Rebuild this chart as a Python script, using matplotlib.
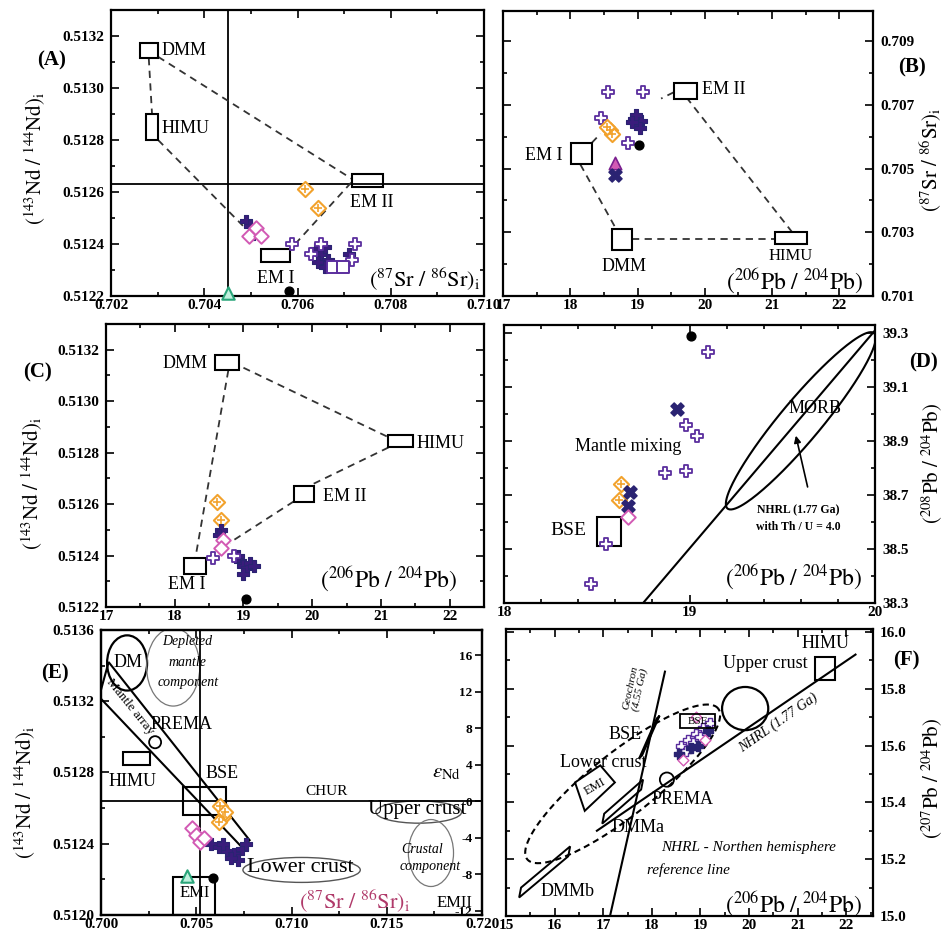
import numpy as np
import matplotlib
matplotlib.use('Agg')
from matplotlib import pyplot as plt
from matplotlib.patches import Rectangle, Ellipse, Polygon
from matplotlib.ticker import MultipleLocator, FixedLocator, FormatStrFormatter

plt.rcParams['font.family'] = ['Liberation Serif', 'DejaVu Serif']
plt.rcParams['mathtext.fontset'] = 'stix'

PURPLE = '#5b2e9e'
DARK = '#3a1c7c'
ORANGE = '#f2a22c'
PINK = '#d25ab4'
NAVY = '#2a2372'
GREEN = '#2aa57a'

# ---------------- data ----------------
# (A) Sr vs Nd
A_open_sr = [0.70588, 0.70724, 0.70716, 0.70650, 0.70628]
A_open_nd = [0.51240, 0.51240, 0.51234, 0.51240, 0.51236]
A_dark_sr = [0.70490, 0.70498, 0.70505, 0.70640, 0.70650, 0.70658, 0.70666, 0.70645, 0.70660, 0.70710]
A_dark_nd = [0.51249, 0.51247, 0.51244, 0.51238, 0.51236, 0.51239, 0.51234, 0.51233, 0.51231, 0.51236]
A_pink_sr = [0.70495, 0.70510, 0.70522]
A_pink_nd = [0.51243, 0.51246, 0.51243]
A_sq_sr = [0.70676, 0.70698]
A_sq_nd = [0.51231, 0.51231]
A_or_sr = [0.70616, 0.70644]
A_or_nd = [0.51261, 0.51254]
A_blk = (0.70582, 0.51222)
A_grn = (0.70451, 0.51221)
A_em = {'DMM': (0.70262, 0.70301, 0.513115, 0.513173),
        'HIMU': (0.70275, 0.70301, 0.51280, 0.51290),
        'EM II': (0.70717, 0.70784, 0.51262, 0.51267),
        'EM I': (0.70522, 0.70584, 0.51233, 0.51238)}
A_mix = [((0.70281, 0.513115), (0.70288, 0.51290)),
         ((0.70301, 0.51312), (0.70717, 0.51265)),
         ((0.70301, 0.51280), (0.70483, 0.51247)),
         ((0.70595, 0.51240), (0.70717, 0.51264))]

# (B) Pb vs Sr
B_yticks = [0.701, 0.703, 0.705, 0.707, 0.709]
B_open_pb = [18.56, 19.08, 18.46, 18.86]
B_open_sr = [0.70742, 0.70742, 0.70659, 0.70581]
B_dark_pb = [18.95, 19.00, 19.05, 18.98, 19.03, 18.92]
B_dark_sr = [0.70655, 0.70640, 0.70650, 0.70668, 0.70628, 0.70645]
B_or_pb = [18.59, 18.62, 18.55]
B_or_sr = [0.70622, 0.70610, 0.70632]
B_blk = (19.02, 0.70575)
B_tri = (18.66, 0.70519)
B_x = (18.66, 0.70481)
B_em = {'EM II': (19.54, 19.88, 0.70720, 0.70768),
        'EM I': (18.01, 18.32, 0.70513, 0.70581),
        'DMM': (18.62, 18.92, 0.70245, 0.70311),
        'HIMU': (21.04, 21.52, 0.70262, 0.70300)}
B_mix = [((18.15, 0.70513), (18.68, 0.70311)),
         ((18.92, 0.70280), (21.04, 0.70280)),
         ((21.30, 0.70300), (19.74, 0.70720)),
         ((19.54, 0.70740), (19.35, 0.70720)),
         ((18.32, 0.70581), (18.45, 0.70610))]

# (C) Pb vs Nd
C_open_pb = [18.56, 18.86]
C_open_nd = [0.51239, 0.51240]
C_dark_pb = [18.67, 18.65, 18.95, 19.00, 19.05, 19.10, 19.15, 19.00, 18.92]
C_dark_nd = [0.51250, 0.51248, 0.51238, 0.51236, 0.51235, 0.51237, 0.51236, 0.51233, 0.51240]
C_pink_pb = [18.70, 18.68]
C_pink_nd = [0.51246, 0.51243]
C_or_pb = [18.62, 18.67]
C_or_nd = [0.51261, 0.51254]
C_blk = (19.03, 0.51223)
C_em = {'DMM': (18.59, 18.94, 0.51312, 0.51318),
        'HIMU': (21.11, 21.47, 0.51282, 0.51287),
        'EM II': (19.73, 20.03, 0.51261, 0.51267),
        'EM I': (18.13, 18.45, 0.51233, 0.51239)}
C_mix = [((18.78, 0.51312), (18.30, 0.51239)),
         ((19.00, 0.51313), (21.11, 0.51286)),
         ((21.11, 0.51282), (19.95, 0.51267)),
         ((19.73, 0.51261), (18.80, 0.51245))]

# (D) 206Pb vs 208Pb
D_yticks = [38.3, 38.5, 38.7, 38.9, 39.1, 39.3]
D_open_pb6 = [19.10, 18.98, 19.04, 18.87, 18.98, 18.55, 18.47]
D_open_pb8 = [39.23, 38.96, 38.92, 38.78, 38.79, 38.52, 38.37]
D_x_pb6 = [18.93, 18.68, 18.67]
D_x_pb8 = [39.02, 38.71, 38.66]
D_or_pb6 = [18.63, 18.62]
D_or_pb8 = [38.74, 38.68]
D_pink = (18.67, 38.62)
D_blk = (19.01, 39.29)
D_bse = (18.50, 18.63, 38.51, 38.62)
D_nhrl_pb6 = [18.75, 20.0]
D_nhrl_pb8 = [38.30, 39.31]
D_morb_c = (19.60, 38.975)
D_morb_a = (0.395, 0.325)
D_morb_b = (-0.085, 0.048)

# (E) Sr vs Nd (reference reservoirs)
E_or_sr = [0.70626, 0.70640, 0.70620, 0.70650]
E_or_nd = [0.51261, 0.51255, 0.51252, 0.51258]
E_pink_sr = [0.70480, 0.70500, 0.70520, 0.70540]
E_pink_nd = [0.51249, 0.51245, 0.51241, 0.51243]
E_dark_sr = [0.70580, 0.70620, 0.70660, 0.70700, 0.70740, 0.70720, 0.70680, 0.70760, 0.70640]
E_dark_nd = [0.51240, 0.51238, 0.51236, 0.51234, 0.51237, 0.51231, 0.51232, 0.51240, 0.51240]
E_grn = (0.70453, 0.51222)
E_blk = (0.70589, 0.51221)
E_chur = 0.512638
E_bulk_sr = 0.7052
E_boxes = {'HIMU': (0.70116, 0.70258, 0.512842, 0.512915),
           'BSE': (0.70432, 0.70658, 0.512561, 0.512719),
           'EMI': (0.70379, 0.70600, 0.51200, 0.512213)}
E_array_sr = [0.70040, 0.70780, 0.70740, 0.69990]
E_array_nd = [0.513420, 0.512420, 0.512380, 0.513225]

# (F) 206Pb vs 207Pb
F_pts_pb6 = [18.60, 18.75, 18.90, 19.05, 19.20, 18.70, 18.85, 19.00, 19.15, 18.55, 18.80, 18.95, 19.10, 18.65, 18.90]
F_pts_pb7 = [15.60, 15.62, 15.64, 15.66, 15.68, 15.58, 15.61, 15.63, 15.65, 15.57, 15.59, 15.60, 15.62, 15.55, 15.70]
F_geo_pb6 = [17.14, 18.27]
F_geo_pb7 = [15.00, 15.86]
F_nhrl_pb6 = [16.87, 22.19]
F_nhrl_pb7 = [15.30, 15.92]
F_emi_pb6 = [16.42, 16.94, 17.24, 16.62]
F_emi_pb7 = [15.47, 15.53, 15.47, 15.37]
F_dmma_pb6 = [16.98, 17.02, 17.82, 17.78]
F_dmma_pb7 = [15.325, 15.360, 15.480, 15.445]
F_dmmb_pb6 = [15.27, 15.31, 16.32, 16.28]
F_dmmb_pb7 = [15.065, 15.100, 15.245, 15.210]
F_bse_pb6 = [17.74, 17.80, 18.16, 18.10]
F_bse_pb7 = [15.555, 15.565, 15.705, 15.695]
F_himu = (21.36, 21.77, 15.83, 15.91)
F_uc = (19.92, 15.73)
F_prema = (18.31, 15.48)
F_mix_c = (17.40, 15.465)
F_mix_a = (1.965, 0.265)
F_mix_b = (-0.40, 0.088)

# ---------------- layout ----------------
W, H = 947, 941
fig = plt.figure(figsize=(W / 100, H / 100), dpi=100)


def panel(x0, y0, x1, y1):
    return fig.add_axes([x0 / W, 1 - y1 / H, (x1 - x0) / W, (y1 - y0) / H])


def style(ax, xmaj, xmin, ymaj, ymin, xfmt, yfmt, right=False):
    ax.xaxis.set_major_locator(MultipleLocator(xmaj))
    ax.xaxis.set_minor_locator(MultipleLocator(xmin))
    if isinstance(ymaj, list):
        ax.yaxis.set_major_locator(FixedLocator(ymaj))
    else:
        ax.yaxis.set_major_locator(MultipleLocator(ymaj))
    ax.yaxis.set_minor_locator(MultipleLocator(ymin))
    ax.xaxis.set_major_formatter(FormatStrFormatter(xfmt))
    ax.yaxis.set_major_formatter(FormatStrFormatter(yfmt))
    ax.tick_params(which='both', direction='in', top=True, right=True, width=1.2)
    ax.tick_params(which='major', length=6, labelsize=11)
    ax.tick_params(which='minor', length=3)
    ax.tick_params(axis='x', pad=2)
    ax.tick_params(axis='y', pad=5)
    if right:
        ax.tick_params(labelleft=False, labelright=True)
    for s in ax.spines.values():
        s.set_linewidth(1.6)
    for t in ax.get_xticklabels() + ax.get_yticklabels():
        t.set_fontweight('bold')


def pts(ax, xs, ys, kind):
    if kind == 'open':
        ax.scatter(xs, ys, marker='P', s=85, facecolors='white', edgecolors=PURPLE, linewidths=1.3, zorder=5)
    elif kind == 'dark':
        ax.scatter(xs, ys, marker='P', s=85, color=DARK, edgecolors=NAVY, linewidths=0.8, zorder=5)
    elif kind == 'orange':
        ax.scatter(xs, ys, marker='D', s=60, facecolors='white', edgecolors=ORANGE, linewidths=1.5, zorder=5)
        ax.scatter(xs, ys, marker='+', s=40, color=ORANGE, linewidths=1.2, zorder=6)
    elif kind == 'pink':
        ax.scatter(xs, ys, marker='D', s=55, facecolors='white', edgecolors=PINK, linewidths=1.4, zorder=5)
    elif kind == 'square':
        ax.scatter(xs, ys, marker='s', s=70, facecolors='white', edgecolors=PURPLE, linewidths=1.4, zorder=5)
    elif kind == 'cross':
        ax.scatter(xs, ys, marker='X', s=90, color=NAVY, zorder=5)
    elif kind == 'tri':
        ax.scatter(xs, ys, marker='^', s=80, facecolors=PINK, edgecolors='#7a1f8f', linewidths=1.2, zorder=5)
    elif kind == 'black':
        ax.scatter(xs, ys, marker='o', s=40, color='black', zorder=6)
    elif kind == 'green':
        ax.scatter(xs, ys, marker='^', s=80, facecolors='#bff0dd', edgecolors=GREEN, linewidths=1.5, zorder=6, clip_on=False)


def boxes(ax, em):
    for name, (x0, x1, y0, y1) in em.items():
        ax.add_patch(Rectangle((x0, y0), x1 - x0, y1 - y0, fill=False, lw=1.5, ec='black', zorder=4))


def mixlines(ax, segs):
    for (p, q) in segs:
        ax.plot([p[0], q[0]], [p[1], q[1]], ls=(0, (4, 3)), lw=1.3, color='#333333', zorder=3)


def ell(ax, c, a, b, **kw):
    t = np.linspace(0, 2 * np.pi, 200)
    ax.plot(c[0] + a[0] * np.cos(t) + b[0] * np.sin(t),
            c[1] + a[1] * np.cos(t) + b[1] * np.sin(t), **kw)


lab_nd = r'$(^{143}\mathrm{Nd}\ /\ ^{144}\mathrm{Nd})_\mathrm{i}$'
lab_sr = r'$(^{87}\mathrm{Sr}\ /\ ^{86}\mathrm{Sr})_\mathrm{i}$'
lab_pb6 = r'$(^{206}\mathrm{Pb}\ /\ ^{204}\mathrm{Pb})$'
lab_pb8 = r'$(^{208}\mathrm{Pb}\ /\ ^{204}\mathrm{Pb})$'
lab_pb7 = r'$(^{207}\mathrm{Pb}\ /\ ^{204}\mathrm{Pb})$'
FS = 13


def ftext(x, y, s, size=15, rot=0, **kw):
    fig.text(x / W, 1 - y / H, s, fontsize=size, rotation=rot, ha='center', va='center', **kw)


# ---------------- (A) ----------------
ax = panel(111, 10, 484, 296)
ax.set_xlim(0.702, 0.710)
ax.set_ylim(0.5122, 0.5133)
style(ax, 0.002, 0.001, 0.0002, 0.0001, '%.3f', '%.4f')
ax.axvline(A_grn[0], color='black', lw=1.3)
ax.axhline(0.51263, color='black', lw=1.3)
boxes(ax, A_em)
mixlines(ax, A_mix)
pts(ax, A_dark_sr, A_dark_nd, 'dark')
pts(ax, A_open_sr, A_open_nd, 'open')
pts(ax, A_pink_sr, A_pink_nd, 'pink')
pts(ax, A_sq_sr, A_sq_nd, 'square')
pts(ax, A_or_sr, A_or_nd, 'orange')
pts(ax, *A_blk, 'black')
pts(ax, *A_grn, 'green')
ax.text(0.70309, 0.513146, 'DMM', fontsize=FS, va='center')
ax.text(0.70309, 0.512846, 'HIMU', fontsize=FS, va='center')
ax.text(0.70713, 0.512558, 'EM II', fontsize=FS, va='center')
ax.text(0.70554, 0.512269, 'EM I', fontsize=FS, va='center', ha='center')
ax.text(0.99, 0.06, lab_sr, transform=ax.transAxes, fontsize=16, ha='right', va='center')

# ---------------- (B) ----------------
ax = panel(503, 11, 873, 296)
ax.set_xlim(17, 22.5)
ax.set_ylim(0.701, 0.70995)
style(ax, 1, 0.5, B_yticks, 0.001, '%d', '%.3f', right=True)
boxes(ax, B_em)
mixlines(ax, B_mix)
pts(ax, B_open_pb, B_open_sr, 'open')
pts(ax, B_dark_pb, B_dark_sr, 'dark')
pts(ax, B_or_pb, B_or_sr, 'orange')
pts(ax, *B_blk, 'black')
pts(ax, *B_tri, 'tri')
pts(ax, *B_x, 'cross')
ax.text(19.96, 0.70747, 'EM II', fontsize=FS, va='center')
ax.text(17.88, 0.70540, 'EM I', fontsize=FS, va='center', ha='right')
ax.text(18.80, 0.70194, 'DMM', fontsize=FS, va='center', ha='center')
ax.text(21.27, 0.70226, 'HIMU', fontsize=12, va='center', ha='center')
ax.text(0.973, 0.055, lab_pb6, transform=ax.transAxes, fontsize=17, ha='right', va='center')

# ---------------- (C) ----------------
ax = panel(106, 324, 484, 607)
ax.set_xlim(17, 22.5)
ax.set_ylim(0.5122, 0.5133)
style(ax, 1, 0.5, 0.0002, 0.0001, '%d', '%.4f')
boxes(ax, C_em)
mixlines(ax, C_mix)
pts(ax, C_or_pb, C_or_nd, 'orange')
pts(ax, C_dark_pb, C_dark_nd, 'dark')
pts(ax, C_pink_pb, C_pink_nd, 'pink')
pts(ax, C_open_pb, C_open_nd, 'open')
pts(ax, *C_blk, 'black')
ax.text(18.48, 0.513145, 'DMM', fontsize=FS, va='center', ha='right')
ax.text(21.52, 0.512837, 'HIMU', fontsize=FS, va='center')
ax.text(20.16, 0.512628, 'EM II', fontsize=FS, va='center')
ax.text(18.18, 0.512286, 'EM I', fontsize=FS, va='center', ha='center')
ax.text(0.93, 0.10, lab_pb6, transform=ax.transAxes, fontsize=17, ha='right', va='center')

# ---------------- (D) ----------------
ax = panel(504, 325, 875, 603)
ax.set_xlim(18, 20)
ax.set_ylim(38.3, 39.33)
style(ax, 1, 0.2, D_yticks, 0.1, '%d', '%.1f', right=True)
ax.plot(D_nhrl_pb6, D_nhrl_pb8, color='black', lw=1.5)
ell(ax, D_morb_c, D_morb_a, D_morb_b, color='black', lw=1.5)
x0, x1, y0, y1 = D_bse
ax.add_patch(Rectangle((x0, y0), x1 - x0, y1 - y0, fill=False, lw=1.5, ec='black', zorder=4))
pts(ax, D_open_pb6, D_open_pb8, 'open')
pts(ax, D_or_pb6, D_or_pb8, 'orange')
pts(ax, D_x_pb6, D_x_pb8, 'cross')
pts(ax, *D_pink, 'pink')
pts(ax, *D_blk, 'black')
ax.text(18.668, 38.878, 'Mantle mixing', fontsize=FS, ha='center', va='center')
ax.text(18.345, 38.57, 'BSE', fontsize=FS + 1, ha='center', va='center')
ax.text(19.676, 39.02, 'MORB', fontsize=FS, ha='center', va='center')
ax.annotate('', xy=(19.57, 38.93), xytext=(19.64, 38.72),
            arrowprops=dict(arrowstyle='-|>', color='black', lw=1.2, mutation_scale=10))
ax.text(19.585, 38.645, 'NHRL (1.77 Ga)', fontsize=8.5, ha='center', va='center', fontweight='bold')
ax.text(19.585, 38.58, 'with Th / U = 4.0', fontsize=8.5, ha='center', va='center', fontweight='bold')
ax.text(0.965, 0.094, lab_pb6, transform=ax.transAxes, fontsize=17, ha='right', va='center')

# ---------------- (E) ----------------
ax = panel(101, 630, 482, 915)
ax.set_xlim(0.700, 0.720)
ax.set_ylim(0.5120, 0.5136)
style(ax, 0.005, 0.0025, 0.0004, 0.0002, '%.3f', '%.4f')
ax.tick_params(right=False, which='both')
ax.axhline(E_chur, color='black', lw=1.3)
ax.axvline(E_bulk_sr, color='black', lw=1.3)
ax.add_patch(Polygon(list(zip(E_array_sr, E_array_nd)), closed=True, fill=False, lw=1.5, ec='black'))
for name, (x0, x1, y0, y1) in E_boxes.items():
    ax.add_patch(Rectangle((x0, y0), x1 - x0, y1 - y0, fill=False, lw=1.5, ec='black', zorder=4))
ax.add_patch(Ellipse((0.70137, 0.513415), 0.0021, 0.00031, fill=False, lw=1.6, ec='black'))
ax.add_patch(Ellipse((0.70379, 0.513392), 0.00279, 0.000438, fill=False, lw=0.9, ec='#777777'))
ax.add_patch(Ellipse((0.70284, 0.51297), 0.00063, 0.000068, fill=False, lw=1.3, ec='black'))
ax.add_patch(Ellipse((0.71668, 0.512578), 0.00450, 0.000125, fill=False, lw=1.0, ec='#555555'))
ax.add_patch(Ellipse((0.71732, 0.512348), 0.00237, 0.000376, fill=False, lw=0.9, ec='#777777'))
ax.add_patch(Ellipse((0.71053, 0.512253), 0.00616, 0.00014, fill=False, lw=1.0, ec='#555555'))
pts(ax, E_dark_sr, E_dark_nd, 'dark')
pts(ax, E_pink_sr, E_pink_nd, 'pink')
pts(ax, E_or_sr, E_or_nd, 'orange')
pts(ax, *E_grn, 'green')
pts(ax, *E_blk, 'black')
ax.text(0.70142, 0.513415, 'DM', fontsize=FS, ha='center', va='center')
for s, y in zip(['Depleted', 'mantle', 'component'], [0.513533, 0.513415, 0.513308]):
    ax.text(0.70455, y, s, fontsize=10, style='italic', ha='center', va='center')
ax.text(0.70152, 0.513168, 'Mantle array', fontsize=9.5, rotation=-51, ha='center', va='center')
ax.text(0.70425, 0.513067, 'PREMA', fontsize=FS, ha='center', va='center')
ax.text(0.70168, 0.512747, 'HIMU', fontsize=FS, ha='center', va='center')
ax.text(0.70635, 0.512797, 'BSE', fontsize=FS, ha='center', va='center')
ax.text(0.71186, 0.512691, 'CHUR', fontsize=11, ha='center', va='center')
ax.text(0.71659, 0.51259, 'Upper crust', fontsize=15, ha='center', va='center')
ax.text(0.71685, 0.512365, 'Crustal', fontsize=10, style='italic', ha='center', va='center')
ax.text(0.71727, 0.51227, 'component', fontsize=10, style='italic', ha='center', va='center')
ax.text(0.71045, 0.512264, 'Lower crust', fontsize=16, ha='center', va='center')
ax.text(0.71858, 0.512067, 'EMII', fontsize=12, ha='center', va='center')
ax.text(0.70493, 0.512124, 'EMI', fontsize=12, ha='center', va='center')
ax.text(0.667, 0.05, lab_sr, transform=ax.transAxes, fontsize=16, ha='center', va='center', color='#b03a6a')
ax.text(0.945, 0.50, r'$\varepsilon_{\mathrm{Nd}}$', transform=ax.transAxes, fontsize=15, ha='right', va='center')
ax2 = ax.twinx()
lo, hi = ax.get_ylim()
ax2.set_ylim((lo / E_chur - 1) * 1e4, (hi / E_chur - 1) * 1e4)
ax2.yaxis.set_major_locator(MultipleLocator(4))
ax2.yaxis.set_major_formatter(FormatStrFormatter('%d'))
ax2.tick_params(direction='in', length=5, width=1.2, labelsize=9.5, pad=-7)
for t in ax2.get_yticklabels():
    t.set_ha('right')
    t.set_fontweight('bold')
for s in ax2.spines.values():
    s.set_linewidth(1.6)

# ---------------- (F) ----------------
ax = panel(506, 629, 873, 916)
ax.set_xlim(15, 22.55)
ax.set_ylim(15.0, 16.01)
style(ax, 1, 0.5, 0.2, 0.1, '%d', '%.1f', right=True)
ax.plot(F_geo_pb6, F_geo_pb7, color='black', lw=1.5)
ax.plot(F_nhrl_pb6, F_nhrl_pb7, color='black', lw=1.5)
ell(ax, F_mix_c, F_mix_a, F_mix_b, color='black', lw=1.5, ls=(0, (3, 2)))
for xs, ys in [(F_emi_pb6, F_emi_pb7), (F_dmma_pb6, F_dmma_pb7), (F_dmmb_pb6, F_dmmb_pb7), (F_bse_pb6, F_bse_pb7)]:
    ax.add_patch(Polygon(list(zip(xs, ys)), closed=True, fill=False, lw=1.4, ec='black', zorder=4))
x0, x1, y0, y1 = F_himu
ax.add_patch(Rectangle((x0, y0), x1 - x0, y1 - y0, fill=False, lw=1.5, ec='black'))
ax.add_patch(Ellipse(F_uc, 0.95, 0.152, fill=False, lw=1.6, ec='black'))
ax.add_patch(Ellipse(F_prema, 0.29, 0.05, fill=False, lw=1.3, ec='black'))
ax.scatter(F_pts_pb6[:8], F_pts_pb7[:8], marker='P', s=45, facecolors='white', edgecolors=PURPLE, linewidths=1.0, zorder=5)
ax.scatter(F_pts_pb6[8:12], F_pts_pb7[8:12], marker='P', s=45, color=NAVY, zorder=5)
ax.scatter(F_pts_pb6[12:], F_pts_pb7[12:], marker='D', s=30, facecolors='white', edgecolors=PINK, linewidths=1.0, zorder=5)
ax.add_patch(Rectangle((18.58, 15.66), 0.72, 0.05, fill=False, lw=1.3, ec='black', zorder=6))
ax.text(18.94, 15.685, 'BSE', fontsize=8, ha='center', va='center', zorder=7)
ax.text(21.57, 15.96, 'HIMU', fontsize=FS, ha='center', va='center')
ax.text(20.33, 15.89, 'Upper crust', fontsize=FS, ha='center', va='center')
ax.text(17.45, 15.64, 'BSE', fontsize=FS, ha='center', va='center')
ax.text(17.0, 15.54, 'Lower crust', fontsize=FS, ha='center', va='center')
ax.text(16.83, 15.456, 'EMI', fontsize=9, ha='center', va='center', rotation=30)
ax.text(17.72, 15.31, 'DMMa', fontsize=FS, ha='center', va='center')
ax.text(18.64, 15.41, 'PREMA', fontsize=FS, ha='center', va='center')
ax.text(16.26, 15.085, 'DMMb', fontsize=FS, ha='center', va='center')
ax.text(20.6, 15.68, 'NHRL (1.77 Ga)', fontsize=10, style='italic', rotation=35, ha='center', va='center')
ax.text(17.66, 15.80, 'Geochron\n(4.55 Ga)', fontsize=8, style='italic', rotation=78, ha='center', va='center', linespacing=0.9)
ax.text(19.98, 15.24, 'NHRL - Northen hemisphere', fontsize=11, style='italic', ha='center', va='center')
ax.text(18.75, 15.16, 'reference line', fontsize=11, style='italic', ha='center', va='center')
ax.text(0.97, 0.045, lab_pb6, transform=ax.transAxes, fontsize=17, ha='right', va='center')

# ---------------- outer labels ----------------
ftext(35, 158, lab_nd, size=15, rot=90)
ftext(32, 483, lab_nd, size=15, rot=90)
ftext(25, 792, lab_nd, size=15, rot=90)
ftext(931, 160, lab_sr, size=15, rot=90)
ftext(932, 463, lab_pb8, size=15, rot=90)
ftext(932, 778, lab_pb7, size=15, rot=90)
for s, x, y in [('(A)', 52, 60), ('(B)', 912, 67), ('(C)', 37, 372),
                ('(D)', 923, 362), ('(E)', 55, 673), ('(F)', 906, 660)]:
    ftext(x, y, s, size=15, fontweight='bold')

fig.savefig('out.png', dpi=100)
